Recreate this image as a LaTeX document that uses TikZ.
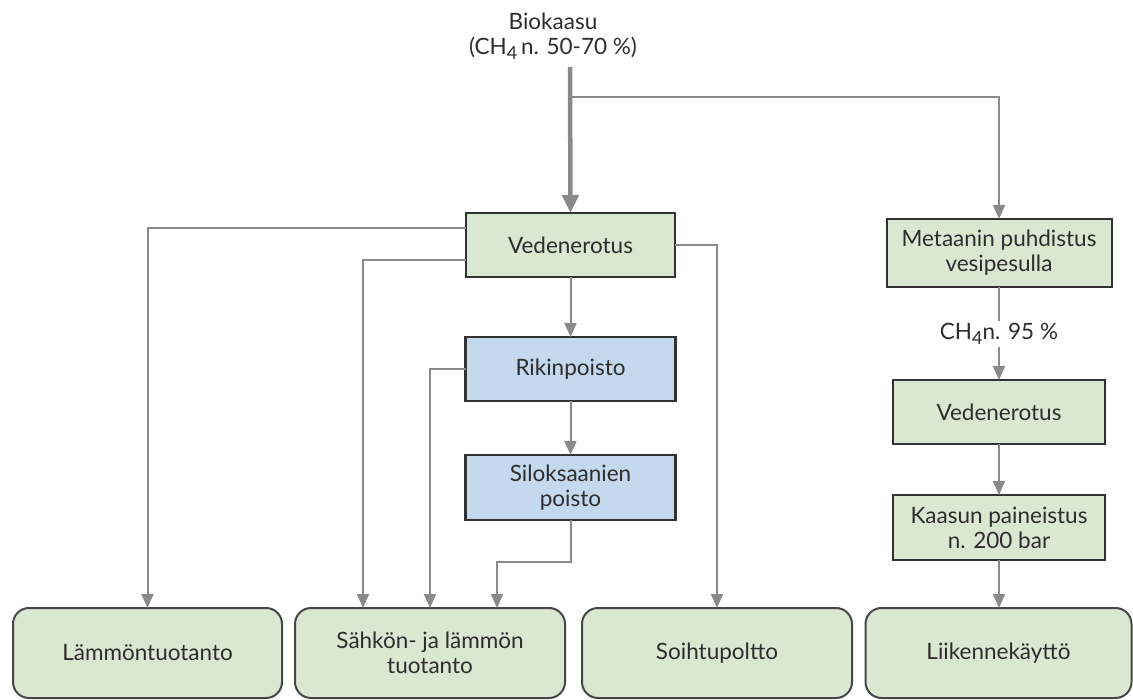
\documentclass[tikz,border=0pt]{standalone}
\usepackage{fontspec}
\setmainfont{Lato}
\usetikzlibrary{arrows.meta}
\definecolor{boxgreen}{RGB}{219,232,209}
\definecolor{boxblue}{RGB}{196,216,238}
\definecolor{conngray}{RGB}{138,138,138}
\definecolor{txtgray}{RGB}{45,45,45}
\definecolor{bordergray}{RGB}{50,50,50}
\newcommand{\subfour}{\raisebox{-0.45ex}{\fontsize{18}{18}\selectfont 4}}
\tikzset{
  every node/.style={font=\fontsize{22.5}{25}\selectfont, text=txtgray},
  procbox/.style={draw=bordergray, line width=2pt, fill=boxgreen, inner sep=0pt, outer sep=0pt, align=center},
  bluebox/.style={procbox, fill=boxblue, line width=2.6pt},
  endbox/.style={draw=bordergray!90, line width=2pt, fill=boxgreen, rounded corners=16pt, inner sep=0pt, outer sep=0pt, align=center, minimum height=90pt},
  conn/.style={draw=conngray, line width=2pt, -{Triangle[width=12pt,length=14pt]}},
  plainconn/.style={draw=conngray, line width=2pt},
  mainconn/.style={draw=conngray, line width=4.5pt, -{Triangle[width=16pt,length=18pt]}}
}
\begin{document}
\begin{tikzpicture}[x=1pt,y=-1pt]
\useasboundingbox (0,0) rectangle (1133,700);
% title
\node[align=center] (bio) at (553,36) {Biokaasu\\(CH\subfour\,n. 50-70 \%)};
\coordinate (src) at (570,67);
\coordinate (br) at (570,97);
% main column
\node[procbox, minimum width=209pt, minimum height=64pt] (ved) at (570.5,245) {Vedenerotus};
\node[bluebox, minimum width=210pt, minimum height=64pt] (rik) at (570.5,369) {Rikinpoisto};
\node[bluebox, minimum width=210pt, minimum height=65pt] (sil) at (570.5,487.5) {Siloksaanien\\poisto};
% right column
\node[procbox, minimum width=225pt, minimum height=68pt] (met) at (999,253) {Metaanin puhdistus\\vesipesulla};
\node[fill=white, inner sep=2pt] (ch4) at (999,334) {CH\subfour n. 95 \%};
\node[procbox, minimum width=212pt, minimum height=64pt] (ved2) at (999,412) {Vedenerotus};
\node[procbox, minimum width=212pt, minimum height=65pt] (kaa) at (999,527.5) {Kaasun paineistus\\n. 200 bar};
% end boxes
\node[endbox, minimum width=269pt] (lam) at (147.5,653) {Lämmöntuotanto};
\node[endbox, minimum width=270pt] (sah) at (430,653) {Sähkön- ja lämmön\\tuotanto};
\node[endbox, minimum width=270pt] (soi) at (717,653) {Soihtupoltto};
\node[endbox, minimum width=266pt] (lii) at (998.5,653) {Liikennekäyttö};
% connectors
\draw[mainconn] (src) -- (ved.north);
\draw[conn] (br) -| (met.north);
\draw[conn] ([yshift=17pt]ved.west) -| (lam.north);
\draw[conn] ([yshift=-15pt]ved.west) -| ([xshift=-67pt]sah.north);
\draw[conn] (ved.east) -| (soi.north);
\draw[conn] (ved.south) -- (rik.north);
\draw[conn] (rik.west) -| (sah.north);
\draw[conn] (rik.south) -- (sil.north);
\draw[conn] (sil.south) -- ++(0,42) -| ([xshift=67pt]sah.north);
\draw[plainconn] (met.south) -- (ch4.north);
\draw[conn] (ch4.south) -- (ved2.north);
\draw[conn] (ved2.south) -- (kaa.north);
\draw[conn] (kaa.south) -- (kaa.south |- lii.north);
\end{tikzpicture}
\end{document}
